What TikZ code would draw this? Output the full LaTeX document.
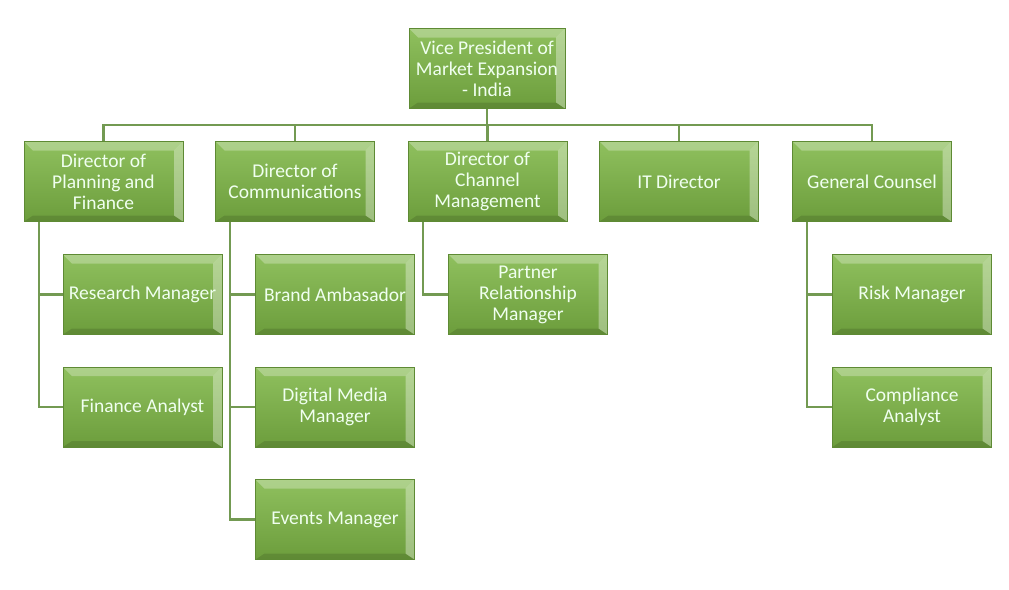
\documentclass[tikz,border=0pt]{standalone}
\usepackage{fontspec}
\setmainfont{Carlito}
\definecolor{boxtop}{HTML}{8FC05E}
\definecolor{boxbot}{HTML}{6C9D3C}
\definecolor{boxedge}{HTML}{5E8A34}
\definecolor{linkcol}{HTML}{739A52}
\begin{document}
\begin{tikzpicture}[x=1pt,y=1pt,font=\fontsize{19.5}{21}\selectfont,
	post/.style={minimum width=159pt,minimum height=80pt,inner sep=1pt,align=center,
		text=white!94!green,top color=boxtop,bottom color=boxbot,draw=boxedge,line width=.6pt,
		path picture={
			\fill[white,opacity=.28] (path picture bounding box.north west) -- (path picture bounding box.north east)
			-- ([shift={(-9pt,-9pt)}]path picture bounding box.north east) -- ([shift={(9pt,-9pt)}]path picture bounding box.north west) -- cycle;
			\fill[black,opacity=.12] (path picture bounding box.south west) -- (path picture bounding box.south east)
			-- ([shift={(-9pt,6pt)}]path picture bounding box.south east) -- ([shift={(9pt,6pt)}]path picture bounding box.south west) -- cycle;
			\fill[white,opacity=.35] (path picture bounding box.north east) -- (path picture bounding box.south east)
			-- ([shift={(-9pt,6pt)}]path picture bounding box.south east) -- ([shift={(-9pt,-9pt)}]path picture bounding box.north east) -- cycle;
		}},
	link/.style={draw=linkcol,line width=2.4pt}]
	\useasboundingbox (0,0) rectangle (1009,-589);
	% top
	\node[post,minimum width=156pt] (vp) at (487,-68.5) {Vice President of\\Market Expansion\\- India};
	% directors
	\node[post] (plan) at (103.5,-181.5) {Director of\\Planning and\\Finance};
	\node[post] (comm) at (295,-181.5) {Director of\\Communications};
	\node[post] (chan) at (487.5,-181.5) {Director of\\Channel\\Management};
	\node[post] (itd) at (679,-181.5) {IT Director};
	\node[post] (gc) at (872,-181.5) {General Counsel};
	% staff
	\node[post] (res) at (142.5,-294.5) {Research Manager};
	\node[post] (fin) at (142.5,-407) {Finance Analyst};
	\node[post] (brand) at (335,-294.5) {Brand Ambasador};
	\node[post] (digi) at (335,-407) {Digital Media\\Manager};
	\node[post] (evt) at (335,-519.5) {Events Manager};
	\node[post] (part) at (528,-294.5) {Partner\\Relationship\\Manager};
	\node[post] (risk) at (912,-294.5) {Risk Manager};
	\node[post] (comp) at (912,-407) {Compliance\\Analyst};
	\foreach \d in {plan,comm,chan,itd,gc}{
		\draw[link] (vp.south) -- ++(0,-16) -| (\d.north);
	}
	\foreach \d/\s in {plan/res,plan/fin,comm/brand,comm/digi,comm/evt,chan/part,gc/risk,gc/comp}{
		\draw[link] ([xshift=15pt]\d.south west) |- (\s.west);
	}
\end{tikzpicture}
\end{document}
